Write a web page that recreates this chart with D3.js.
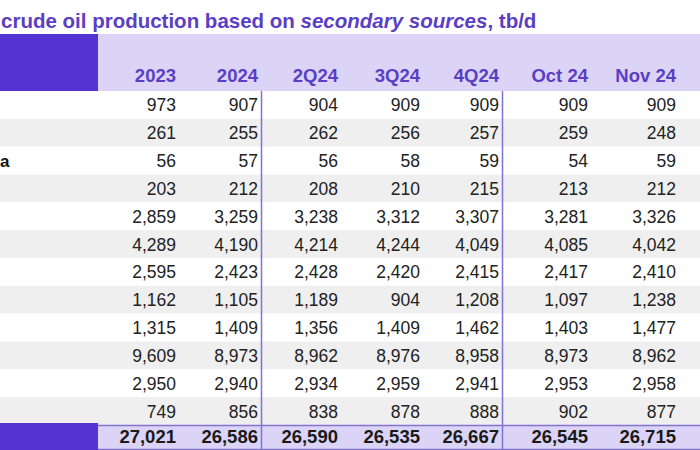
<!DOCTYPE html>
<html><head><meta charset="utf-8">
<script src="https://cdn.jsdelivr.net/npm/d3@7"></script>
<style>html,body{margin:0;padding:0;background:#fff;overflow:hidden}svg{display:block;font-family:Arial,"Liberation Sans",sans-serif}</style>
</head><body><svg id="c" width="700" height="450"></svg>
<script>
const columns = ["2023","2024","2Q24","3Q24","4Q24","Oct 24","Nov 24"];
// row labels as visible in the (cropped) reference
const rowLabels = ["","","a","","","","","","","","",""];
const values = [
  [973,907,904,909,909,909,909],
  [261,255,262,256,257,259,248],
  [56,57,56,58,59,54,59],
  [203,212,208,210,215,213,212],
  [2859,3259,3238,3312,3307,3281,3326],
  [4289,4190,4214,4244,4049,4085,4042],
  [2595,2423,2428,2420,2415,2417,2410],
  [1162,1105,1189,904,1208,1097,1238],
  [1315,1409,1356,1409,1462,1403,1477],
  [9609,8973,8962,8976,8958,8973,8962],
  [2950,2940,2934,2959,2941,2953,2958],
  [749,856,838,878,888,902,877]
];
const totals = [27021,26586,26590,26535,26667,26545,26715];
const separatorsAfter = ["2024","4Q24"];

const W = 700, H = 450;
const svg = d3.select("#c");
const fmt = d3.format(",");
const purpleDark = "#5534d4", lav = "#dbd4f6", txtPurple = "#5a3ec4", lineC = "#8272d2";

const x = d3.scaleOrdinal().domain(columns).range([176,258,338,420,499,588,676]);
const headTop = 34, headBot = 91, dataBot = 425, totBot = 449;
const y = d3.scaleBand().domain(d3.range(values.length)).range([headBot, dataBot]);

// title
const title = svg.append("text").attr("x",1).attr("y",28)
  .attr("fill", txtPurple).attr("font-weight","bold").attr("font-size",20.5);
title.append("tspan").text("crude oil production based on ");
title.append("tspan").attr("font-style","italic").text("secondary sources");
title.append("tspan").text(", tb/d");

// header band
svg.append("rect").attr("x",0).attr("y",headTop).attr("width",W).attr("height",headBot-headTop).attr("fill",lav);
svg.append("rect").attr("x",0).attr("y",headTop).attr("width",98).attr("height",headBot-headTop).attr("fill",purpleDark);
svg.selectAll("text.hd").data(columns).join("text").attr("class","hd")
  .attr("x",d=>x(d)).attr("y",82).attr("text-anchor","end")
  .attr("font-weight","bold").attr("font-size",18.5).attr("fill",txtPurple).text(d=>d);

// rows
const rows = svg.selectAll("g.row").data(values).join("g").attr("class","row")
  .attr("transform",(d,i)=>`translate(0,${y(i)})`);
rows.append("rect").attr("x",0).attr("width",W).attr("height",y.bandwidth())
  .attr("fill",(d,i)=> i%2 ? "#efefef" : "#ffffff");
rows.filter((d,i)=>rowLabels[i]).append("text").attr("x",0).attr("y",y.bandwidth()/2+6)
  .attr("font-weight","bold").attr("font-size",17).attr("fill","#111")
  .text((d,i)=>rowLabels[values.indexOf(d)]);
rows.selectAll("text.v").data(d=>d.map((v,j)=>({v,c:columns[j]}))).join("text").attr("class","v")
  .attr("x",d=>x(d.c)).attr("y",y.bandwidth()/2+6.5).attr("text-anchor","end")
  .attr("font-size",17.5).attr("fill","#222").text(d=>fmt(d.v));

// total row
const tg = svg.append("g");
tg.append("rect").attr("x",0).attr("y",dataBot).attr("width",W).attr("height",totBot-dataBot).attr("fill",lav);
tg.append("rect").attr("x",0).attr("y",dataBot-2).attr("width",98).attr("height",H-dataBot+2).attr("fill",purpleDark);
tg.append("line").attr("x1",98).attr("x2",W).attr("y1",dataBot+0.5).attr("y2",dataBot+0.5).attr("stroke",lineC).attr("stroke-width",1.5);
tg.append("line").attr("x1",98).attr("x2",W).attr("y1",totBot+0.5).attr("y2",totBot+0.5).attr("stroke",lineC).attr("stroke-width",1.5);
tg.selectAll("text.t").data(totals).join("text").attr("class","t")
  .attr("x",(d,j)=>x(columns[j])).attr("y",443).attr("text-anchor","end")
  .attr("font-weight","bold").attr("font-size",18.5).attr("fill","#1a1a1a").text(d=>fmt(d));

// separators
svg.selectAll("line.sep").data(separatorsAfter).join("line").attr("class","sep")
  .attr("x1",d=>x(d)+3.5).attr("x2",d=>x(d)+3.5).attr("y1",headBot).attr("y2",H)
  .attr("stroke",lineC).attr("stroke-width",1.5);
</script></body></html>
